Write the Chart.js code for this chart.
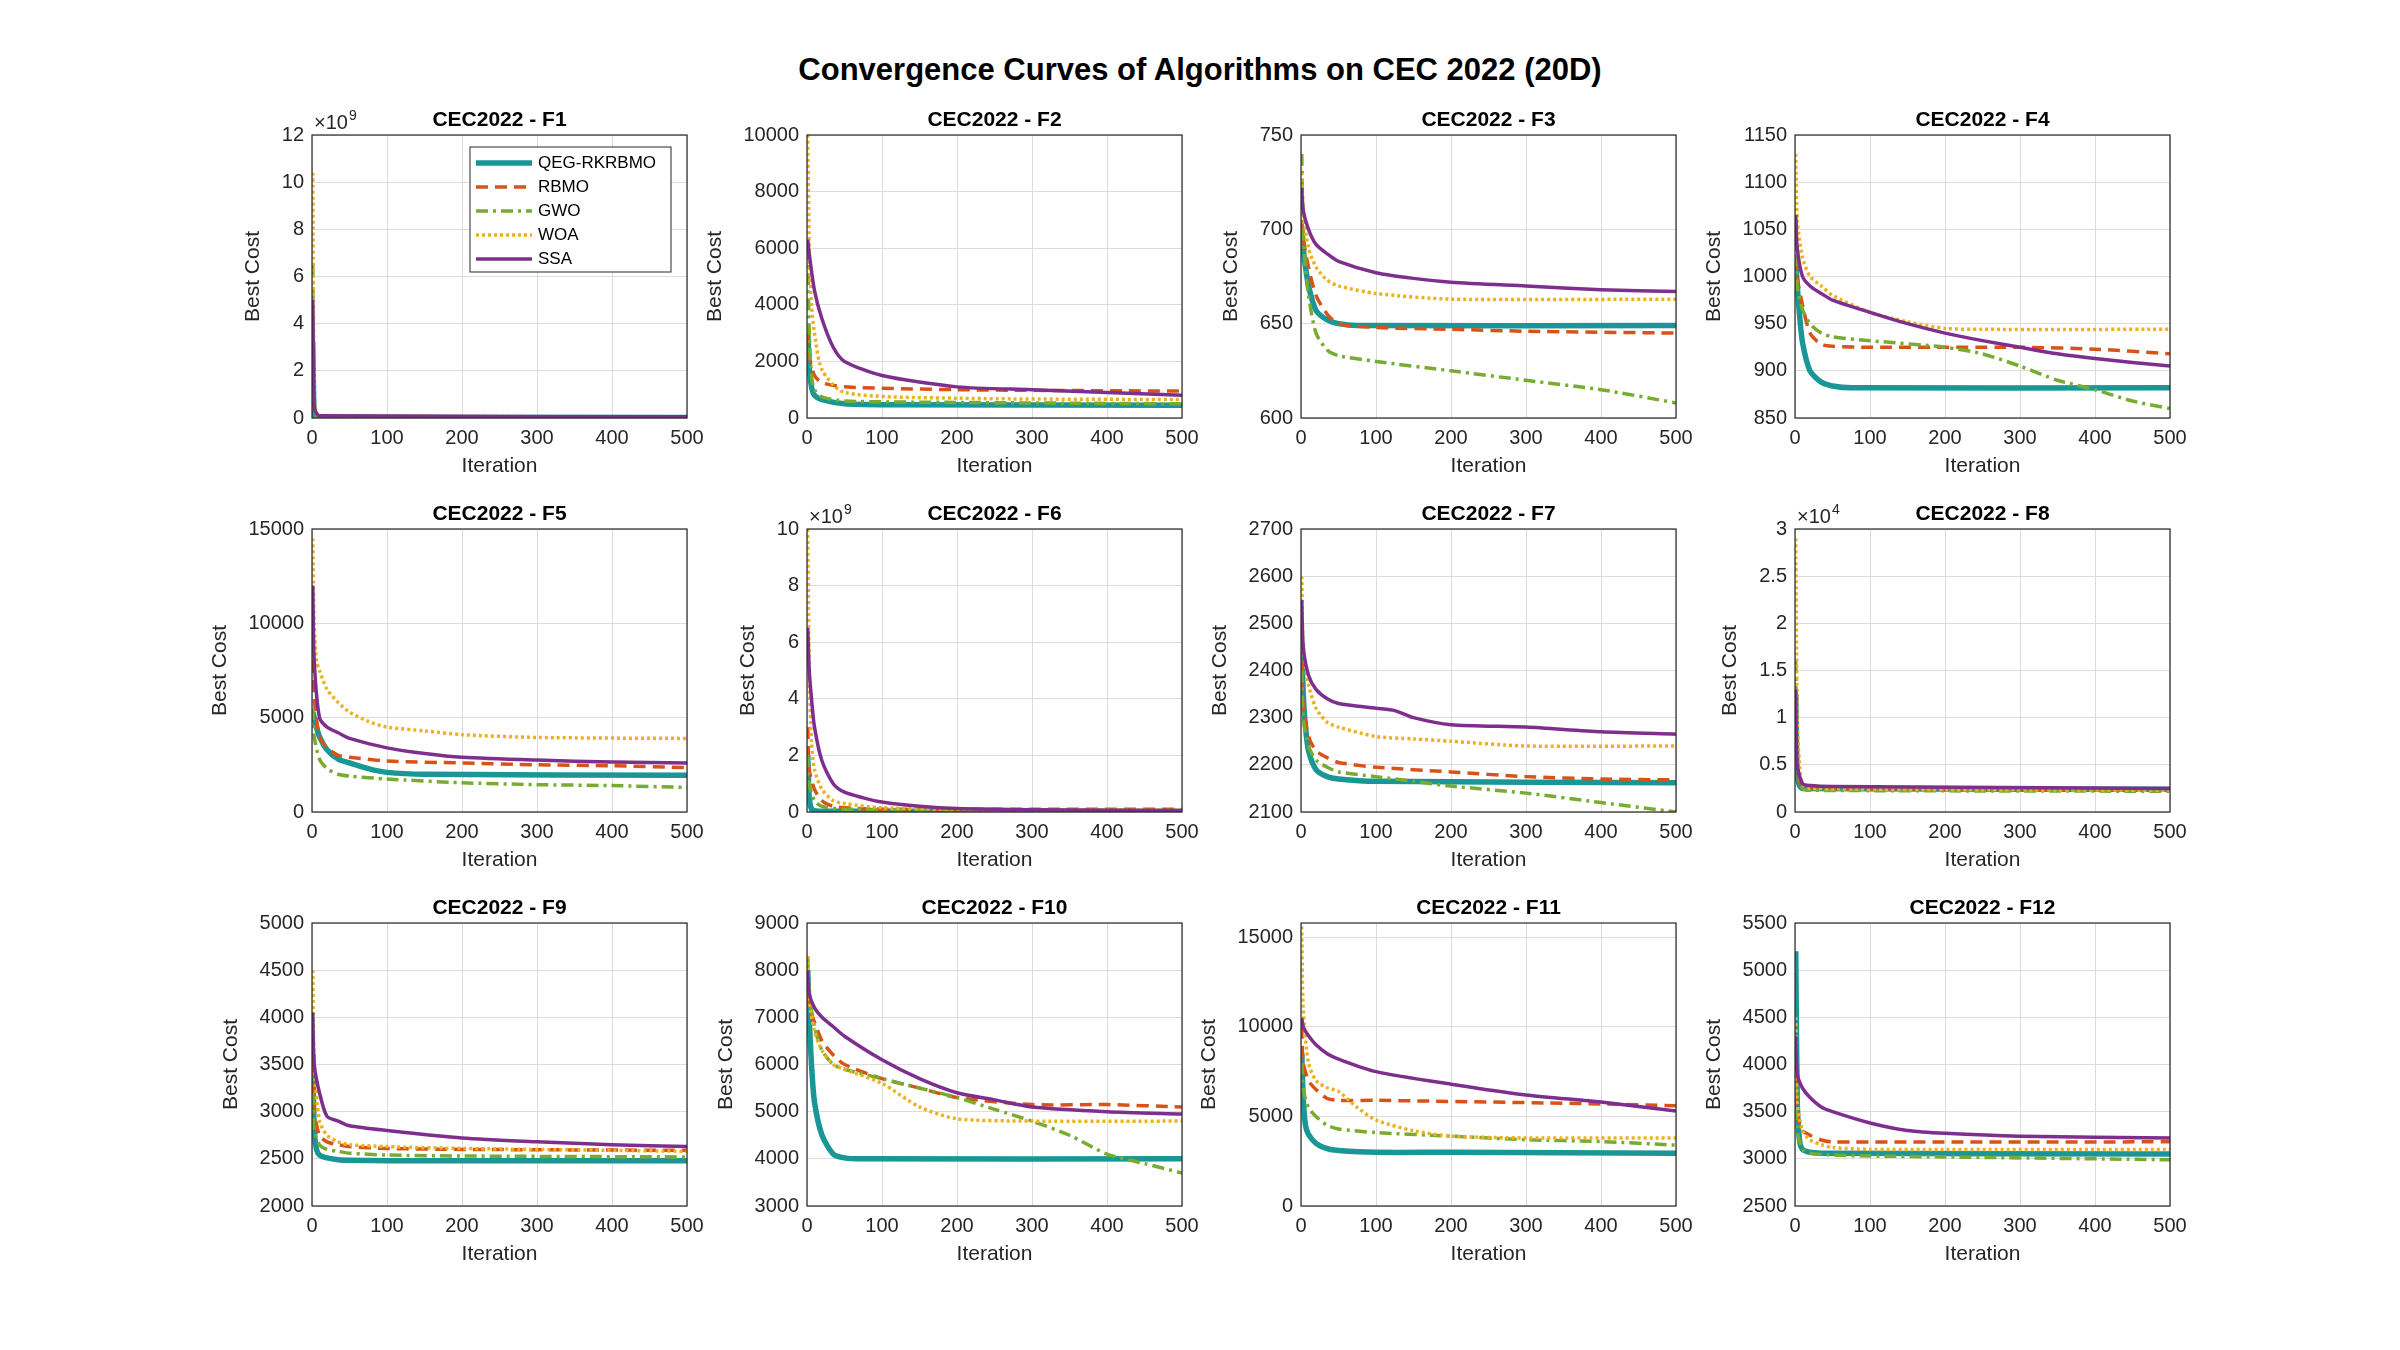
<!DOCTYPE html>
<html>
<head>
<meta charset="utf-8">
<script src="https://cdn.jsdelivr.net/npm/chart.js@4.4.1/dist/chart.umd.min.js"></script>
<style>
  body { margin: 0; background: #fff; width: 2400px; height: 1350px; position: relative; overflow: hidden; font-family: 'Liberation Sans', Arial, sans-serif; }
  #title { position: absolute; top: 52px; left: 0; width: 2400px; text-align: center; font-weight: bold; font-size: 31px; color: #000; }
  .box { position: absolute; }
</style>
</head>
<body>
<div id="title">Convergence Curves of Algorithms on CEC 2022 (20D)</div>
<script>
const algos = ['QEG-RKRBMO', 'RBMO', 'GWO', 'WOA', 'SSA'];
const colors = ['#1a9696', '#d95319', '#77ac30', '#edb120', '#7e2f8e'];

// per function: [iteration, best cost]
const F1 = [
  [[1,3.2],[3,0.1],[6,0.05],[10,0.03],[500,0.02]],
  [[1,4],[3,0.3],[6,0.1],[10,0.05],[500,0.03]],
  [[1,6.5],[3,0.5],[6,0.1],[10,0.05],[500,0.03]],
  [[1,10.4],[3,1],[6,0.2],[10,0.1],[500,0.04]],
  [[1,5],[3,0.5],[6,0.2],[10,0.1],[500,0.05]],
];
const F2 = [
  [[1,3000],[3,1800],[6,1100],[10,800],[20,650],[50,500],[100,470],[500,450]],
  [[1,3000],[3,2200],[10,1500],[20,1250],[50,1100],[200,1000],[500,950]],
  [[1,6000],[3,3000],[6,1500],[10,1000],[20,750],[50,600],[200,550],[500,500]],
  [[1,10000],[3,6000],[6,4000],[10,3000],[20,1700],[50,900],[200,700],[500,650]],
  [[1,6300],[3,5800],[10,4500],[20,3500],[35,2500],[50,2000],[100,1500],[200,1100],[300,1000],[500,800]],
];
const F3 = [
  [[1,700],[3,690],[6,680],[10,670],[20,657],[35,652],[50,650],[75,649],[500,649]],
  [[1,705],[3,695],[10,680],[20,665],[35,655],[50,650],[100,648],[200,647],[300,646],[500,645]],
  [[1,740],[3,700],[6,680],[10,665],[20,645],[35,636],[50,633],[100,630],[200,625],[300,620],[400,615],[500,608]],
  [[1,730],[3,710],[10,690],[20,680],[35,673],[50,670],[100,666],[200,663],[500,663]],
  [[1,722],[3,710],[10,700],[20,692],[35,687],[50,683],[100,677],[150,674],[200,672],[300,670],[400,668],[500,667]],
];
const F4 = [
  [[1,1015],[3,990],[6,960],[10,930],[20,900],[35,888],[50,884],[75,882],[500,882]],
  [[1,1060],[3,1000],[10,970],[20,940],[35,928],[50,926],[100,925],[300,925],[400,923],[500,918]],
  [[1,1050],[3,990],[10,965],[20,950],[35,940],[50,936],[100,932],[200,925],[250,918],[300,905],[350,890],[400,880],[450,868],[500,860]],
  [[1,1130],[3,1060],[10,1020],[20,1000],[35,990],[50,980],[100,962],[150,952],[200,945],[250,944],[500,944]],
  [[1,1065],[3,1030],[10,1000],[20,990],[35,982],[50,975],[100,962],[150,950],[200,940],[250,932],[300,925],[350,918],[400,913],[500,905]],
];
const F5 = [
  [[1,5300],[3,5000],[6,4500],[10,4000],[20,3300],[35,2800],[50,2600],[75,2300],[100,2100],[150,2000],[500,1950]],
  [[1,8000],[3,6000],[10,4000],[20,3400],[35,3000],[50,2900],[100,2700],[200,2600],[300,2500],[400,2450],[500,2350]],
  [[1,5500],[3,4000],[10,2800],[20,2300],[35,2000],[50,1900],[100,1750],[200,1550],[300,1450],[400,1400],[500,1300]],
  [[1,14500],[3,10000],[6,8000],[10,7500],[20,6500],[35,5800],[50,5300],[75,4800],[100,4500],[150,4300],[200,4100],[300,3950],[500,3900]],
  [[1,12000],[3,8000],[10,5000],[20,4500],[35,4200],[50,3900],[100,3400],[150,3100],[200,2900],[300,2750],[400,2650],[500,2600]],
];
const F6 = [
  [[1,2],[3,0.5],[6,0.1],[10,0.05],[20,0.03],[500,0.02]],
  [[1,3],[3,1.5],[10,0.8],[20,0.4],[35,0.2],[50,0.15],[100,0.1],[500,0.1]],
  [[1,2],[3,1],[10,0.4],[20,0.2],[50,0.1],[500,0.05]],
  [[1,10],[3,5],[6,2.5],[10,1.5],[20,0.8],[35,0.4],[50,0.3],[100,0.15],[200,0.1],[500,0.05]],
  [[1,6.5],[3,5],[6,4],[10,3],[20,1.8],[35,1],[50,0.7],[75,0.5],[100,0.35],[150,0.2],[200,0.12],[300,0.08],[500,0.05]],
];
const F7 = [
  [[1,2460],[3,2350],[6,2280],[10,2230],[20,2190],[35,2175],[50,2170],[100,2165],[500,2162]],
  [[1,2420],[3,2330],[10,2260],[20,2230],[35,2215],[50,2205],[100,2195],[200,2185],[300,2175],[400,2170],[500,2168]],
  [[1,2400],[3,2300],[10,2240],[20,2210],[35,2195],[50,2185],[100,2175],[150,2165],[200,2155],[300,2140],[400,2120],[500,2100]],
  [[1,2600],[3,2450],[10,2370],[20,2320],[35,2290],[50,2280],[100,2260],[150,2255],[200,2250],[300,2240],[500,2240]],
  [[1,2550],[3,2450],[10,2390],[20,2360],[35,2340],[50,2330],[100,2320],[125,2315],[150,2300],[200,2285],[300,2280],[400,2270],[500,2265]],
];
const F8 = [
  [[1,1.25],[3,0.4],[6,0.28],[10,0.25],[500,0.24]],
  [[1,1.0],[3,0.4],[10,0.27],[20,0.25],[500,0.24]],
  [[1,1.6],[3,0.5],[10,0.25],[20,0.23],[500,0.22]],
  [[1,2.9],[3,1],[6,0.5],[10,0.3],[20,0.25],[500,0.23]],
  [[1,1.3],[3,0.5],[10,0.3],[20,0.28],[50,0.27],[500,0.25]],
];
const F9 = [
  [[1,3600],[3,2800],[6,2600],[10,2540],[20,2510],[35,2490],[50,2485],[100,2480],[500,2480]],
  [[1,3500],[3,3000],[10,2750],[20,2680],[35,2650],[50,2630],[100,2610],[200,2600],[500,2590]],
  [[1,3200],[3,2800],[10,2650],[20,2600],[35,2580],[50,2560],[100,2540],[200,2530],[500,2520]],
  [[1,4500],[3,3500],[10,2900],[20,2750],[35,2680],[50,2650],[100,2630],[200,2610],[500,2580]],
  [[1,4050],[3,3500],[10,3200],[20,2950],[35,2900],[50,2850],[100,2800],[200,2720],[300,2680],[400,2650],[500,2630]],
];
const F10 = [
  [[1,8000],[3,7000],[6,6000],[10,5200],[20,4500],[35,4100],[50,4020],[75,4000],[500,4000]],
  [[1,7500],[3,7200],[10,6900],[20,6500],[35,6200],[50,6000],[100,5700],[150,5500],[200,5300],[300,5150],[400,5150],[500,5100]],
  [[1,8300],[3,7500],[10,6800],[20,6300],[35,6000],[50,5900],[100,5700],[150,5500],[200,5300],[250,5050],[300,4800],[350,4500],[400,4100],[450,3900],[500,3700]],
  [[1,8300],[3,7400],[10,6700],[20,6300],[35,6000],[50,5900],[100,5600],[150,5100],[200,4850],[300,4800],[500,4800]],
  [[1,8000],[3,7500],[10,7200],[20,7000],[35,6800],[50,6600],[100,6100],[150,5700],[200,5400],[250,5250],[300,5100],[400,5000],[500,4950]],
];
const F11 = [
  [[1,8500],[3,6000],[6,4500],[10,4000],[20,3500],[35,3200],[50,3100],[100,3000],[200,3000],[500,2950]],
  [[1,10000],[3,8000],[10,7000],[20,6500],[35,6000],[50,5900],[100,5900],[400,5700],[500,5600]],
  [[1,8000],[3,6500],[10,5500],[20,5000],[35,4500],[50,4300],[100,4100],[200,3900],[300,3700],[400,3600],[500,3400]],
  [[1,15600],[3,11000],[10,8000],[20,7000],[35,6600],[50,6400],[75,5500],[100,4800],[150,4200],[200,3900],[300,3800],[500,3800]],
  [[1,10500],[3,10000],[10,9500],[20,9000],[35,8500],[50,8200],[100,7500],[200,6800],[300,6200],[400,5800],[500,5300]],
];
const F12 = [
  [[1,5200],[3,3600],[6,3200],[10,3100],[20,3070],[35,3060],[50,3060],[500,3050]],
  [[1,3900],[3,3500],[10,3300],[20,3250],[35,3200],[50,3180],[500,3180]],
  [[1,3800],[3,3300],[10,3100],[20,3060],[50,3040],[100,3030],[200,3020],[500,2990]],
  [[1,4500],[3,3600],[10,3300],[20,3200],[35,3150],[50,3120],[100,3100],[500,3100]],
  [[1,4300],[3,3900],[10,3750],[20,3650],[35,3550],[50,3500],[100,3380],[150,3300],[200,3270],[300,3240],[500,3220]],
];

const xTicks = [0, 100, 200, 300, 400, 500];
const panels = [
  { name: 'F1', data: F1, min: 0, max: 12, ticks: [0,2,4,6,8,10,12], exp: '9' },
  { name: 'F2', data: F2, min: 0, max: 10000, ticks: [0,2000,4000,6000,8000,10000] },
  { name: 'F3', data: F3, min: 600, max: 750, ticks: [600,650,700,750] },
  { name: 'F4', data: F4, min: 850, max: 1150, ticks: [850,900,950,1000,1050,1100,1150] },
  { name: 'F5', data: F5, min: 0, max: 15000, ticks: [0,5000,10000,15000] },
  { name: 'F6', data: F6, min: 0, max: 10, ticks: [0,2,4,6,8,10], exp: '9' },
  { name: 'F7', data: F7, min: 2100, max: 2700, ticks: [2100,2200,2300,2400,2500,2600,2700] },
  { name: 'F8', data: F8, min: 0, max: 3, ticks: [0,0.5,1,1.5,2,2.5,3], exp: '4' },
  { name: 'F9', data: F9, min: 2000, max: 5000, ticks: [2000,2500,3000,3500,4000,4500,5000] },
  { name: 'F10', data: F10, min: 3000, max: 9000, ticks: [3000,4000,5000,6000,7000,8000,9000] },
  { name: 'F11', data: F11, min: 0, max: 15800, ticks: [0,5000,10000,15000] },
  { name: 'F12', data: F12, min: 2500, max: 5500, ticks: [2500,3000,3500,4000,4500,5000,5500] },
];

const colLeft = [312, 807, 1301, 1795];
const rowTop = [135, 529, 923];
const plotW = 375, plotH = 283;
const padL = 130, padT = 50, padB = 90, padR = 30;
const FONT = "'Liberation Sans', Arial, sans-serif";

const lineStyle = [
  { width: 5.5, dash: [] },
  { width: 3.5, dash: [12, 7] },
  { width: 3.5, dash: [12, 5, 3, 5] },
  { width: 3.5, dash: [3, 3] },
  { width: 3.5, dash: [] },
];

const decorate = {
  id: 'decorate',
  afterDraw(chart, args, opts) {
    const ctx = chart.ctx, a = chart.chartArea, p = opts.panel;
    ctx.save();
    ctx.strokeStyle = '#262626';
    ctx.lineWidth = 1.2;
    ctx.strokeRect(a.left, a.top, a.right - a.left, a.bottom - a.top);
    ctx.fillStyle = '#000';
    ctx.font = 'bold 21px ' + FONT;
    ctx.textAlign = 'center';
    ctx.textBaseline = 'bottom';
    ctx.fillText('CEC2022 - ' + p.name, (a.left + a.right) / 2, a.top - 4);
    ctx.fillStyle = '#262626';
    ctx.font = '21px ' + FONT;
    ctx.textBaseline = 'top';
    ctx.fillText('Iteration', (a.left + a.right) / 2, a.bottom + 38);
    ctx.font = '20px ' + FONT;
    let w = 0;
    p.ticks.forEach(t => { w = Math.max(w, ctx.measureText(String(t)).width); });
    ctx.save();
    ctx.translate(a.left - w - 26, (a.top + a.bottom) / 2);
    ctx.rotate(-Math.PI / 2);
    ctx.textAlign = 'center';
    ctx.textBaseline = 'bottom';
    ctx.font = '21px ' + FONT;
    ctx.fillText('Best Cost', 0, 0);
    ctx.restore();
    if (p.exp) {
      ctx.textAlign = 'left';
      ctx.textBaseline = 'bottom';
      ctx.font = '20px ' + FONT;
      ctx.fillText('\u00d710', a.left + 2, a.top - 2);
      const tw = ctx.measureText('\u00d710').width;
      ctx.font = '14px ' + FONT;
      ctx.fillText(p.exp, a.left + 3 + tw, a.top - 12);
    }
    if (p.name === 'F1') {
      const lx = a.left + 158, ly = a.top + 12, lw = 201, lh = 125;
      ctx.fillStyle = '#fff';
      ctx.fillRect(lx, ly, lw, lh);
      ctx.strokeStyle = '#262626';
      ctx.lineWidth = 1;
      ctx.strokeRect(lx, ly, lw, lh);
      ctx.font = '17px ' + FONT;
      ctx.textBaseline = 'middle';
      algos.forEach((name, i) => {
        const y = ly + 16 + i * 24;
        ctx.strokeStyle = colors[i];
        ctx.lineWidth = lineStyle[i].width;
        ctx.setLineDash(lineStyle[i].dash);
        ctx.beginPath();
        ctx.moveTo(lx + 6, y);
        ctx.lineTo(lx + 62, y);
        ctx.stroke();
        ctx.setLineDash([]);
        ctx.fillStyle = '#000';
        ctx.fillText(name, lx + 68, y);
      });
    }
    ctx.restore();
  }
};

panels.forEach((p, k) => {
  const r = Math.floor(k / 4), c = k % 4;
  const div = document.createElement('div');
  div.className = 'box';
  const W = padL + plotW + padR, H = padT + plotH + padB;
  div.style.left = (colLeft[c] - padL) + 'px';
  div.style.top = (rowTop[r] - padT) + 'px';
  div.style.width = W + 'px';
  div.style.height = H + 'px';
  const canvas = document.createElement('canvas');
  div.appendChild(canvas);
  document.body.appendChild(div);

  new Chart(canvas, {
    type: 'line',
    data: {
      datasets: p.data.map((pts, i) => ({
        label: algos[i],
        data: pts.map(d => ({ x: d[0], y: d[1] })),
        borderColor: colors[i],
        borderWidth: lineStyle[i].width,
        borderDash: lineStyle[i].dash,
        pointRadius: 0,
        tension: 0.25,
        fill: false,
        order: i === 0 ? 5 : 5 - i,
      })),
    },
    options: {
      responsive: true,
      maintainAspectRatio: false,
      animation: false,
      layout: { padding: { top: padT, right: padR, left: 0, bottom: 0 } },
      plugins: {
        legend: { display: false },
        tooltip: { enabled: false },
        decorate: { panel: p },
      },
      scales: {
        x: {
          type: 'linear',
          min: 0,
          max: 500,
          afterBuildTicks: s => { s.ticks = xTicks.map(v => ({ value: v })); },
          afterFit: s => { s.height = padB; },
          grid: { color: '#dcdcdc', drawTicks: false },
          border: { display: false },
          ticks: { color: '#262626', font: { size: 20, family: FONT }, padding: 8, maxRotation: 0, callback: v => String(v) },
        },
        y: {
          min: p.min,
          max: p.max,
          afterBuildTicks: s => { s.ticks = p.ticks.map(v => ({ value: v })); },
          afterFit: s => { s.width = padL; },
          grid: { color: '#dcdcdc', drawTicks: false },
          border: { display: false },
          ticks: { color: '#262626', font: { size: 20, family: FONT }, padding: 8, callback: v => String(v) },
        },
      },
    },
    plugins: [decorate],
  });
});
</script>
</body>
</html>
